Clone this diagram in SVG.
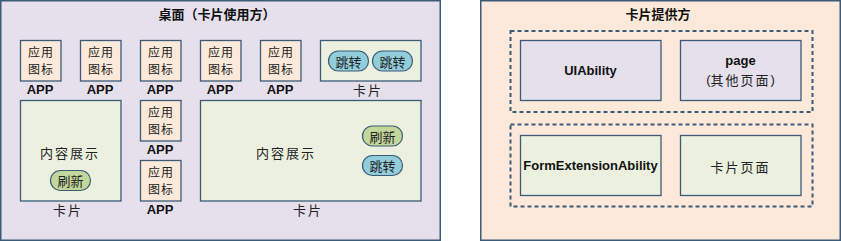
<svg xmlns="http://www.w3.org/2000/svg" width="841" height="241" viewBox="0 0 841 241">
<style>
.panel{stroke:#3B5B78;stroke-width:1.5}
.box{stroke:#3B5B78;stroke-width:1.3}
.app{fill:#FDE9D9}
.card{fill:#EBF1DE}
.lav{fill:#E5E0EC}
.pillb{fill:#92CDDC;stroke:#3B5B78;stroke-width:1.2}
.pillg{fill:#C3D69B;stroke:#3B5B78;stroke-width:1.2}
.dash{fill:none;stroke:#3B5B78;stroke-width:2;stroke-dasharray:4 3}
text{font-family:"Noto Sans CJK SC","Liberation Sans",sans-serif;font-size:13px;fill:#222;text-anchor:middle;dominant-baseline:central}
.i{font-size:12px;letter-spacing:1px}
.b{font-family:"Liberation Sans","Noto Sans CJK SC",sans-serif;font-weight:bold;fill:#111}
.t{font-weight:bold;fill:#111}
.sp{letter-spacing:2px}
</style>
<g id="desktop">
<rect class="panel lav" x="0.75" y="0.75" width="439.5" height="239.5"/>
<text class="t" x="217" y="13">桌面（卡片使用方）</text>
</g>
<g id="app1"><rect class="box app" x="20.5" y="40.5" width="40.5" height="40.5"/><text class="i" x="41" y="51">应用</text><text class="i" x="41" y="68.5">图标</text><text class="b" x="40" y="89" font-size="12">APP</text></g>
<g id="app2"><rect class="box app" x="80.5" y="40.5" width="40.5" height="40.5"/><text class="i" x="101" y="51">应用</text><text class="i" x="101" y="68.5">图标</text><text class="b" x="100" y="89" font-size="12">APP</text></g>
<g id="app3"><rect class="box app" x="140.5" y="40.5" width="40.5" height="40.5"/><text class="i" x="161" y="51">应用</text><text class="i" x="161" y="68.5">图标</text><text class="b" x="160" y="89" font-size="12">APP</text></g>
<g id="app4"><rect class="box app" x="200.5" y="40.5" width="40.5" height="40.5"/><text class="i" x="221" y="51">应用</text><text class="i" x="221" y="68.5">图标</text><text class="b" x="220" y="89" font-size="12">APP</text></g>
<g id="app5"><rect class="box app" x="260.5" y="40.5" width="40.5" height="40.5"/><text class="i" x="281" y="51">应用</text><text class="i" x="281" y="68.5">图标</text><text class="b" x="280" y="89" font-size="12">APP</text></g>
<g id="card-small">
<rect class="box card" x="320.5" y="40.5" width="100.5" height="40.5"/>
<rect class="pillb" x="328.5" y="51" width="40" height="20" rx="10"/><text x="348.5" y="61">跳转</text>
<rect class="pillb" x="372.5" y="51" width="40" height="20" rx="10"/><text x="392.5" y="61">跳转</text>
<text class="sp" x="368" y="89">卡片</text>
</g>
<g id="card-left">
<rect class="box card" x="20.5" y="100.5" width="100.5" height="100.5"/>
<text class="sp" x="70" y="152">内容展示</text>
<rect class="pillg" x="50.5" y="170.5" width="40" height="20" rx="10"/><text x="70.5" y="180.5">刷新</text>
<text class="sp" x="68" y="209">卡片</text>
</g>
<g id="app6"><rect class="box app" x="140.5" y="100.5" width="40.5" height="40.5"/><text class="i" x="161" y="111">应用</text><text class="i" x="161" y="128.5">图标</text><text class="b" x="160" y="149" font-size="12">APP</text></g>
<g id="app7"><rect class="box app" x="140.5" y="160.5" width="40.5" height="40.5"/><text class="i" x="161" y="171">应用</text><text class="i" x="161" y="188.5">图标</text><text class="b" x="160" y="209" font-size="12">APP</text></g>
<g id="card-big">
<rect class="box card" x="200.5" y="100.5" width="220.5" height="100.5"/>
<text class="sp" x="286" y="152">内容展示</text>
<rect class="pillg" x="362.5" y="126" width="40" height="20" rx="10"/><text x="382.5" y="136">刷新</text>
<rect class="pillb" x="362.5" y="155.5" width="40" height="20" rx="10"/><text x="382.5" y="165.5">跳转</text>
<text class="sp" x="308" y="209">卡片</text>
</g>
<g id="provider">
<rect class="panel app" x="480.75" y="0.75" width="359.5" height="239.5"/>
<text class="t" x="658" y="13">卡片提供方</text>
<rect class="dash" x="510.5" y="31" width="302" height="81"/>
<rect class="dash" x="510.5" y="124.5" width="302" height="82"/>
</g>
<g id="uiability"><rect class="box lav" x="520.5" y="40.5" width="140.5" height="60"/><text class="b" x="590.5" y="70" font-size="13">UIAbility</text></g>
<g id="page"><rect class="box lav" x="680.5" y="40.5" width="120.5" height="60"/><text class="b" x="740.5" y="60" font-size="13">page</text><text x="740.5" y="79"><tspan font-family="Liberation Sans, sans-serif">(</tspan><tspan letter-spacing="2">其他页面</tspan><tspan font-family="Liberation Sans, sans-serif">)</tspan></text></g>
<g id="formext"><rect class="box card" x="520.5" y="135.5" width="140.5" height="60"/><text class="b" x="590.5" y="165" font-size="13">FormExtensionAbility</text></g>
<g id="cardpage"><rect class="box card" x="680.5" y="135.5" width="120.5" height="60"/><text class="sp" x="740.5" y="166">卡片页面</text></g>
<g id="connectors"></g>
</svg>
